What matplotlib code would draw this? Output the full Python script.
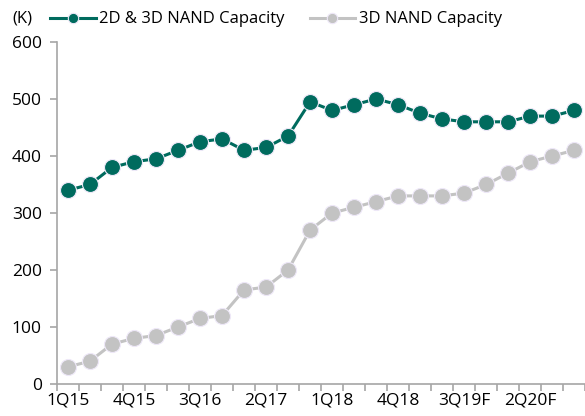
import numpy as np
import matplotlib.pyplot as plt

quarters = [f"{q}Q{y}" for y in range(15, 21) for q in range(1, 5)]
quarters = [q + "F" if q in ("3Q19", "4Q19") or q.endswith("20") else q for q in quarters]
total_cap = [340, 350, 380, 390, 395, 410, 425, 430, 410, 415, 435, 495,
             480, 490, 500, 490, 475, 465, 460, 460, 460, 470, 470, 480]
nand3d_cap = [30, 40, 70, 80, 85, 100, 115, 120, 165, 170, 200, 270,
              300, 310, 320, 330, 330, 330, 335, 350, 370, 390, 400, 410]

green = "#006B5E"
gray = "#C3C3C3"
axis_col = "#A6A6A6"

plt.rcParams['font.family'] = ['Open Sans', 'DejaVu Sans']

fig = plt.figure(figsize=(5.85, 4.16), dpi=100)
ax = fig.add_axes([0.0974, 0.077, 0.903, 0.822])

x = np.arange(len(quarters))
ax.plot(x, total_cap, color=green, lw=2.2, marker='o', ms=11.5,
        mec='#EEE8F8', mew=0.8, label='2D & 3D NAND Capacity')
ax.plot(x, nand3d_cap, color=gray, lw=2.2, marker='o', ms=11.5,
        mec='#EEE8F8', mew=0.8, label='3D NAND Capacity')

ax.set_xlim(-0.5, len(quarters) - 0.5)
ax.set_ylim(0, 600)
ax.set_yticks(range(0, 601, 100))
ax.set_xticks(x[::3])
ax.set_xticklabels(quarters[::3])
ax.set_xticks(np.arange(-0.5, len(quarters), 1), minor=True)

for s in ('top', 'right'):
    ax.spines[s].set_visible(False)
for s in ('left', 'bottom'):
    ax.spines[s].set_color(axis_col)
    ax.spines[s].set_linewidth(1.2)

ax.tick_params(axis='y', length=5, color=axis_col, width=1.2, labelsize=12.5, pad=6)
ax.tick_params(axis='x', which='major', length=0, labelsize=12.5, pad=6)
ax.tick_params(axis='x', which='minor', length=5, color=axis_col, width=1.2)

fig.text(0.022, 0.955, "(K)", fontsize=12, va='center')
ax.legend(loc='center left', bbox_to_anchor=(-0.026, 1.066), ncol=2, frameon=False,
          fontsize=12, handlelength=2.75, columnspacing=1.5, handletextpad=0.2,
          markerscale=0.65, borderaxespad=0)

fig.savefig("out.png", dpi=100)
